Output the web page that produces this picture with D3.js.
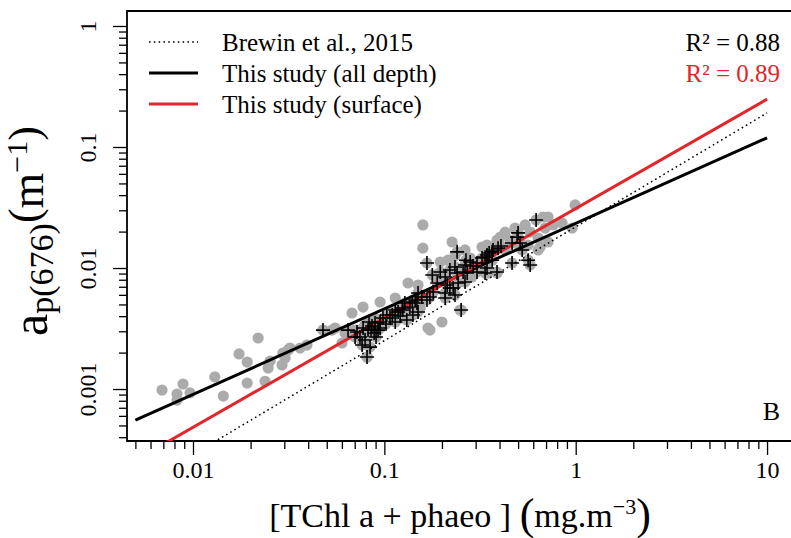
<!DOCTYPE html>
<html>
<head>
<meta charset="utf-8">
<script src="https://cdn.jsdelivr.net/npm/d3@7"></script>
<style>
  html, body { margin: 0; padding: 0; background: #fff; }
  svg { display: block; font-family: "Liberation Serif", "Times New Roman", serif; }
</style>
</head>
<body>
<svg id="chart" width="791" height="538"></svg>
<script>
// Samples below the surface: [TChl a + phaeo] (mg m-3) and ap(676) (m-1)
const deepChl = [0.00689, 0.00825, 0.00887, 0.00965, 0.00825, 0.0130, 0.0144, 0.0174, 0.0192, 0.0219,
  0.0192, 0.0238, 0.0247, 0.0253, 0.0292, 0.0303, 0.0314, 0.0295, 0.0321, 0.0363,
  0.0394, 0.0533, 0.0478, 0.0601, 0.0678, 0.0774, 0.0950, 0.114, 0.133, 0.0553,
  0.0812, 0.159, 0.159, 0.226, 0.344, 0.403, 0.676, 0.717, 0.993, 0.636,
  0.173, 0.200, 0.169, 0.305, 0.287, 0.215, 0.849, 0.636, 0.652, 0.324,
  0.357, 0.388, 0.388, 0.249, 0.428, 0.482, 0.544, 0.578, 0.454, 0.512,
  0.692, 0.762, 0.428, 0.564, 0.717, 0.958, 0.196, 0.234, 0.264, 0.281,
  0.189, 0.220, 0.150, 0.141, 0.121, 0.107, 0.0894, 0.0793, 0.0703, 0.0623,
  0.121, 0.154, 0.348];
const deepAp = [0.00098, 0.00091, 0.0011, 0.00093, 0.00081, 0.00126, 0.000875, 0.00195, 0.00167, 0.00264,
  0.00112, 0.00116, 0.00149, 0.0017, 0.00158, 0.0018, 0.0021, 0.00198, 0.00218, 0.00218,
  0.00231, 0.00307, 0.00307, 0.0024, 0.00425, 0.00476, 0.00524, 0.00565, 0.00752, 0.00319,
  0.00184, 0.0227, 0.0146, 0.0164, 0.0155, 0.018, 0.0264, 0.0264, 0.0332, 0.0141,
  0.00307, 0.00358, 0.00319, 0.0112, 0.00843, 0.0116, 0.0235, 0.0177, 0.0149, 0.0149,
  0.0149, 0.017, 0.00909, 0.0045, 0.0198, 0.0214, 0.0227, 0.0198, 0.017, 0.0146,
  0.0214, 0.0227, 0.0141, 0.0155, 0.0164, 0.0214, 0.0112, 0.0126, 0.0141, 0.0121,
  0.00827, 0.00752, 0.00724, 0.00544, 0.00494, 0.00433, 0.00386, 0.00338, 0.00307, 0.0029,
  0.00386, 0.00467, 0.00909];

// Surface samples
const surfChl = [0.0478, 0.0646, 0.0720, 0.0746, 0.0793, 0.0812, 0.0822, 0.0862, 0.0894, 0.0927,
  0.0950, 0.0984, 0.103, 0.110, 0.114, 0.118, 0.124, 0.131, 0.141, 0.0774,
  0.0852, 0.128, 0.136, 0.140, 0.145, 0.148, 0.150, 0.157, 0.167, 0.173,
  0.178, 0.180, 0.189, 0.196, 0.208, 0.208, 0.208, 0.213, 0.220, 0.220,
  0.229, 0.234, 0.234, 0.240, 0.240, 0.243, 0.252, 0.258, 0.264, 0.264,
  0.267, 0.271, 0.281, 0.291, 0.305, 0.305, 0.324, 0.336, 0.336, 0.344,
  0.344, 0.353, 0.366, 0.366, 0.370, 0.388, 0.393, 0.407, 0.465, 0.465,
  0.494, 0.500, 0.512, 0.525, 0.564, 0.578, 0.621, 0.0703, 0.0842, 0.0765,
  0.0884, 0.0832, 0.0950, 0.102, 0.107, 0.114, 0.121, 0.0905, 0.150, 0.167,
  0.125];
const surfAp = [0.00307, 0.00307, 0.00296, 0.00269, 0.00254, 0.00184, 0.00307, 0.00332, 0.00351, 0.00307,
  0.00358, 0.00386, 0.00409, 0.00409, 0.00358, 0.00433, 0.00467, 0.00372, 0.00409, 0.00319,
  0.00307, 0.00514, 0.00476, 0.00524, 0.00544, 0.00514, 0.00622, 0.00576, 0.011, 0.00576,
  0.00876, 0.00634, 0.00752, 0.00927, 0.00843, 0.00622, 0.00565, 0.00724, 0.00963, 0.00684,
  0.00684, 0.0102, 0.00598, 0.00909, 0.0136, 0.00752, 0.0045, 0.00927, 0.0106, 0.00766,
  0.0116, 0.00909, 0.0112, 0.0104, 0.011, 0.00927, 0.0121, 0.0123, 0.00909, 0.01,
  0.0128, 0.0133, 0.0136, 0.0116, 0.0141, 0.00927, 0.0146, 0.0152, 0.0161, 0.011,
  0.018, 0.0195, 0.0161, 0.0141, 0.0116, 0.0106, 0.0249, 0.00269, 0.00222, 0.00231,
  0.0029, 0.00358, 0.00319, 0.00345, 0.00386, 0.0045, 0.00401, 0.00269, 0.00433, 0.00544,
  0.0045];

// Power-law fits ap(676) = A * chl^B
const fitNames = ["Brewin et al., 2015", "This study (all depth)", "This study (surface)"];
const fitA = [0.0219, 0.0234, 0.0310];
const fitB = [0.941, 0.707, 0.904];
const fitRange = [0.005, 10];
const r2Labels = ["R\u00B2 = 0.88", "R\u00B2 = 0.89"];

const xMajor = [0.01, 0.1, 1, 10];
const xMajorLabels = ["0.01", "0.1", "1", "10"];
const yMajor = [0.001, 0.01, 0.1, 1];
const yMajorLabels = ["0.001", "0.01", "0.1", "1"];

const L = 127, R = 792, T = 11, B = 441;
const RED = "#e3262b", GREY = "#ababab";

const svg = d3.select("#chart");
const x = d3.scaleLog().domain([0.00452, 13.5]).range([L, R]);
const y = d3.scaleLog().domain([0.000372, 1.33]).range([B, T]);

// minor ticks at 2..9 times each power of ten
function minorTicks(scale) {
  const [lo, hi] = scale.domain();
  const out = [];
  for (let e = Math.floor(Math.log10(lo)); e <= Math.ceil(Math.log10(hi)); e++) {
    for (let k = 2; k <= 9; k++) {
      const v = k * Math.pow(10, e);
      if (v >= lo && v <= hi) out.push(v);
    }
  }
  return out;
}

svg.append("defs").append("clipPath").attr("id", "plotClip")
  .append("rect").attr("x", L).attr("y", T).attr("width", R - L).attr("height", B - T);

// axes
const axisStyle = g => {
  g.select(".domain").remove();
  g.selectAll(".tick line").attr("stroke", "#000").attr("stroke-width", 1.3);
};

svg.append("g").attr("transform", `translate(0,${B})`)
  .call(d3.axisBottom(x).tickValues(minorTicks(x)).tickSize(8).tickSizeOuter(0).tickFormat(""))
  .call(axisStyle);

const gxMaj = svg.append("g").attr("transform", `translate(0,${B})`)
  .call(d3.axisBottom(x).tickValues(xMajor).tickSize(14).tickSizeOuter(0)
    .tickFormat((d, i) => xMajorLabels[i]))
  .call(axisStyle);
gxMaj.selectAll(".tick text")
  .attr("y", 37).attr("dy", null)
  .attr("font-size", 24).attr("font-family", "Liberation Serif").attr("fill", "#000");

svg.append("g").attr("transform", `translate(${L},0)`)
  .call(d3.axisLeft(y).tickValues(minorTicks(y)).tickSize(8).tickSizeOuter(0).tickFormat(""))
  .call(axisStyle);

const gyMaj = svg.append("g").attr("transform", `translate(${L},0)`)
  .call(d3.axisLeft(y).tickValues(yMajor).tickSize(14).tickSizeOuter(0)
    .tickFormat((d, i) => yMajorLabels[i]))
  .call(axisStyle);
gyMaj.selectAll(".tick text")
  .attr("x", null).attr("dy", null)
  .attr("transform", "translate(-31,0) rotate(-90)")
  .attr("text-anchor", "middle")
  .attr("font-size", 24).attr("font-family", "Liberation Serif").attr("fill", "#000");

// frame (open on the right)
svg.append("path")
  .attr("d", `M${R},${T}H${L}V${B}H${R}`)
  .attr("fill", "none").attr("stroke", "#000").attr("stroke-width", 1.8);

const plot = svg.append("g").attr("clip-path", "url(#plotClip)");

// all samples as grey dots
const allPts = deepChl.map((c, i) => [c, deepAp[i]])
  .concat(surfChl.map((c, i) => [c, surfAp[i]]));
plot.append("g").selectAll("circle").data(allPts).join("circle")
  .attr("cx", d => x(d[0])).attr("cy", d => y(d[1])).attr("r", 5.6)
  .attr("fill", GREY);

// fitted lines
const fitStyle = [
  { stroke: "#000", width: 1.5, dash: "1.6,3.2" },
  { stroke: "#000", width: 3, dash: null },
  { stroke: RED, width: 3, dash: null }
];
const line = d3.line().x(d => x(d[0])).y(d => y(d[1]));
fitA.forEach((a, i) => {
  const pts = fitRange.map(c => [c, a * Math.pow(c, fitB[i])]);
  plot.append("path").attr("d", line(pts))
    .attr("fill", "none").attr("stroke", fitStyle[i].stroke)
    .attr("stroke-width", fitStyle[i].width)
    .attr("stroke-dasharray", fitStyle[i].dash);
});

// surface samples as crosses
const surfPts = surfChl.map((c, i) => [c, surfAp[i]]);
plot.append("g").selectAll("path").data(surfPts).join("path")
  .attr("d", d => `M${x(d[0]) - 7},${y(d[1])}h14M${x(d[0])},${y(d[1]) - 7}v14`)
  .attr("stroke", "#000").attr("stroke-width", 1.6).attr("fill", "none");

// legend
const legRows = [42, 73, 104];
fitNames.forEach((name, i) => {
  svg.append("line").attr("x1", 149).attr("x2", 198)
    .attr("y1", legRows[i]).attr("y2", legRows[i])
    .attr("stroke", fitStyle[i].stroke).attr("stroke-width", fitStyle[i].width)
    .attr("stroke-dasharray", fitStyle[i].dash);
  svg.append("text").attr("x", 222).attr("y", legRows[i] + 9)
    .attr("font-size", 25).attr("fill", "#000").text(name);
});

// R² values
r2Labels.forEach((t, i) => {
  svg.append("text").attr("x", 780).attr("y", legRows[i] + 9)
    .attr("text-anchor", "end").attr("font-size", 25)
    .attr("fill", i === 0 ? "#000" : RED).text(t);
});

// panel letter
svg.append("text").attr("x", 780).attr("y", 420).attr("text-anchor", "end")
  .attr("font-size", 26).attr("fill", "#000").text("B");

// x-axis title
const xt = svg.append("text").attr("x", 460).attr("y", 527)
  .attr("text-anchor", "middle").attr("fill", "#000");
xt.append("tspan").attr("font-size", 34).text("[TChl a + phaeo ] ");
xt.append("tspan").attr("font-size", 44).attr("dy", 2).text("(");
xt.append("tspan").attr("font-size", 34).attr("dy", -2).text("mg.m");
xt.append("tspan").attr("font-size", 22).attr("dy", -13).text("\u22123");
xt.append("tspan").attr("font-size", 44).attr("dy", 15).text(")");

// y-axis title
const yt = svg.append("text").attr("transform", "translate(47,231) rotate(-90)")
  .attr("text-anchor", "middle").attr("fill", "#000");
yt.append("tspan").attr("font-size", 50).text("a");
yt.append("tspan").attr("font-size", 34).attr("dy", 6).text("p(676)");
yt.append("tspan").attr("font-size", 44).attr("dy", -14).text("(");
yt.append("tspan").attr("font-size", 46).attr("dy", 4).text("m");
yt.append("tspan").attr("font-size", 30).attr("dy", -16).text("\u22121");
yt.append("tspan").attr("font-size", 44).attr("dy", 12).text(")");
</script>
</body>
</html>
